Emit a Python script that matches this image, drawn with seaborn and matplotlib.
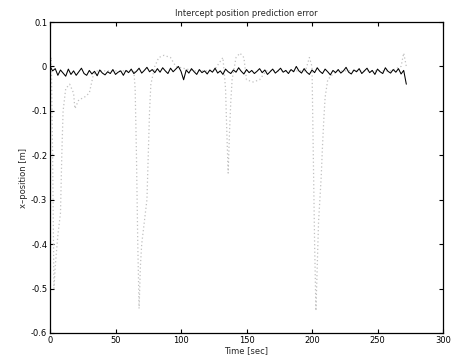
import numpy as np
import pandas as pd
import matplotlib
matplotlib.use("Agg")
import matplotlib.pyplot as plt
import seaborn as sns

# Measured (black) error, sampled every 2 s from t = 0
err_step = 2
err_vals = [
    0.0, -0.01, -0.005, -0.02, -0.008, -0.015, -0.022, -0.006, -0.018, -0.01, -0.02,
    -0.012, -0.004, -0.016, -0.02, -0.009, -0.017, -0.011, -0.021, -0.008, -0.015,
    -0.019, -0.012, -0.016, -0.007, -0.018, -0.013, -0.01, -0.02, -0.009, -0.014,
    -0.006, -0.016, -0.011, -0.004, -0.015, -0.009, -0.002, -0.012, -0.007, -0.014,
    -0.005, -0.013, -0.003, -0.01, -0.016, -0.004, -0.012, -0.006, 0.0, -0.011,
    -0.03, -0.008, -0.015, -0.005, -0.012, -0.018, -0.007, -0.014, -0.01, -0.017,
    -0.008, -0.013, -0.004, -0.015, -0.01, -0.018, -0.006, -0.012, -0.016, -0.008,
    -0.013, -0.003, -0.011, -0.017, -0.007, -0.014, -0.009, -0.016, -0.011, -0.005,
    -0.014, -0.008, -0.018, -0.012, -0.006, -0.015, -0.01, -0.004, -0.013, -0.009,
    -0.016, -0.007, -0.012, 0.0, -0.01, -0.015, -0.005, -0.013, -0.018, -0.008,
    -0.014, -0.003, -0.011, -0.016, -0.006, -0.012, -0.019, -0.009, -0.014, -0.007,
    -0.015, -0.01, -0.002, -0.013, -0.017, -0.008, -0.012, -0.005, -0.016, -0.01,
    -0.004, -0.014, -0.009, -0.018, -0.006, -0.012, -0.016, -0.003, -0.011, -0.015,
    -0.007, -0.013, -0.005, -0.017, -0.009, -0.04,
]
err_time = [i * err_step for i in range(len(err_vals))]

# Prediction (grey dotted) trace
pred_time = [0, 1, 2, 3, 4, 6, 8, 9, 10, 12, 15, 18, 19, 22, 26, 30, 33, 36, 45, 55,
             62, 64, 65, 66, 67, 68, 69, 70, 72, 74, 75, 76, 77, 80, 83, 87, 92, 96,
             110, 125, 132, 134, 135, 136, 137, 138, 139, 142, 145, 148, 150, 155,
             160, 165, 180, 195, 198, 200, 201, 202, 203, 204, 205, 206, 207, 208,
             209, 210, 212, 215, 220, 240, 260, 268, 270, 272]
pred_vals = [0.0, 0.02, -0.2, -0.5, -0.45, -0.38, -0.33, -0.2, -0.1, -0.05, -0.04,
             -0.06, -0.095, -0.075, -0.07, -0.06, -0.02, -0.01, -0.01, -0.01,
             -0.01, -0.01, -0.05, -0.2, -0.4, -0.545, -0.45, -0.4, -0.35, -0.3,
             -0.2, -0.1, -0.04, 0.0, 0.02, 0.025, 0.02, 0.0,
             -0.01, -0.01, 0.02, -0.05, -0.15, -0.24, -0.15, -0.08, -0.03, 0.02,
             0.03, 0.02, -0.03, -0.035,
             -0.03, -0.01, -0.01, -0.01, 0.02, 0.0, -0.2, -0.4, -0.55, -0.45,
             -0.35, -0.3, -0.25, -0.18,
             -0.12, -0.07, -0.03, -0.02, -0.01, -0.01, -0.01, 0.0, 0.03, 0.0]

x_ticks = [0, 50, 100, 150, 200, 250, 300]
y_ticks = [0.1, 0, -0.1, -0.2, -0.3, -0.4, -0.5, -0.6]
y_tick_labels = ["0.1", "0", "-0.1", "-0.2", "-0.3", "-0.4", "-0.5", "-0.6"]

sns.set_style("white")
plt.rcParams["font.family"] = ["DejaVu Sans"]

fig = plt.figure(figsize=(4.59, 3.58), dpi=100)
ax = fig.add_axes([50 / 459, 25 / 358, 393 / 459, 311 / 358])

pred_df = pd.DataFrame({"t": pred_time, "v": pred_vals})
err_df = pd.DataFrame({"t": err_time, "v": err_vals})

sns.lineplot(data=pred_df, x="t", y="v", ax=ax, color="#c0c0c0",
             linestyle=(0, (1, 2)), linewidth=0.9, estimator=None, sort=False)
sns.lineplot(data=err_df, x="t", y="v", ax=ax, color="black",
             linewidth=0.75, estimator=None, sort=False)

ax.set_xlim(0, 300)
ax.set_ylim(-0.6, 0.1)
ax.set_xticks(x_ticks)
ax.set_xticklabels([str(v) for v in x_ticks])
ax.set_yticks(y_ticks)
ax.set_yticklabels(y_tick_labels)
ax.tick_params(direction="in", length=3, width=0.8, labelsize=6, colors="black",
               top=True, right=True, bottom=True, left=True, pad=2)
for s in ax.spines.values():
    s.set_color("black")
    s.set_linewidth(0.9)

ax.set_title("Intercept position prediction error", fontsize=6, pad=4)
ax.set_xlabel("Time [sec]", fontsize=6, labelpad=1)
ax.set_ylabel("x\u2013position [m]", fontsize=6, labelpad=2)

fig.savefig("out.png", dpi=100)
